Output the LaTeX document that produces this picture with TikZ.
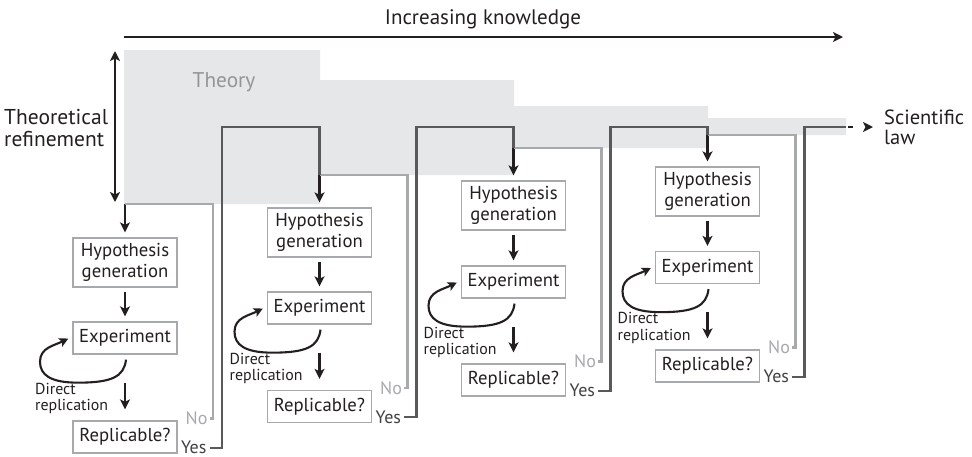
\documentclass[tikz,border=0pt]{standalone}
\usepackage{fontspec}
\setmainfont{PT Sans}
\usetikzlibrary{arrows.meta,calc}
\definecolor{ink}{HTML}{231F20}
\definecolor{yesc}{HTML}{58595B}
\definecolor{yestxt}{HTML}{414042}
\definecolor{noc}{HTML}{A7A9AC}
\definecolor{boxc}{HTML}{A7A9AC}
\definecolor{theoryc}{HTML}{E6E7E8}
\definecolor{theorytxt}{HTML}{939598}
\begin{document}
\begin{tikzpicture}[x=1pt,y=-1pt,
  box/.style={draw=boxc, line width=1.3pt, fill=white, minimum width=104pt, minimum height=32pt, inner sep=0pt, font=\fontsize{18.7}{21.5}\selectfont, text=ink, align=center},
  arr/.style={draw=ink, line width=2.3pt, -{Stealth[length=10pt,width=10pt,inset=2.5pt]}},
  looparr/.style={draw=ink, line width=2.1pt, -{Stealth[length=9pt,width=9pt,inset=2pt]}},
  yesl/.style={draw=yesc, line width=2.3pt},
  nol/.style={draw=noc, line width=2.3pt},
  lbl/.style={font=\fontsize{18}{21}\selectfont, text=ink, inner sep=0pt},
  small/.style={font=\fontsize{15.9}{16.5}\selectfont, text=ink, inner sep=0pt, align=left}]
\useasboundingbox (0,0) rectangle (972,456);
% theory region
\fill[theoryc] (124,50) -- (320,50) -- (320,80) -- (514,80) -- (514,106) -- (708,106) -- (708,118) -- (846,118) -- (846,135) -- (708,135) -- (708,148) -- (514,148) -- (514,175) -- (320,175) -- (320,204) -- (124,204) -- cycle;
\node[lbl, font=\fontsize{21.3}{22}\selectfont, text=theorytxt] (theory) at (224,82) {Theory};
% increasing knowledge
\node[lbl, font=\fontsize{21}{22}\selectfont] (ik) at (483,19) {Increasing knowledge};
\coordinate (ika) at (124,37);
\coordinate (ikb) at (843,37);
\draw[arr] (ika) -- (ikb);
% theoretical refinement
\node[lbl, font=\fontsize{21.5}{21.5}\selectfont, align=left, anchor=west] (tr) at (4,128) {Theoretical\\refinement};
\coordinate (tra) at (115,51);
\coordinate (trb) at (115,202);
\draw[draw=ink, line width=2.3pt, {Stealth[length=10pt,width=10pt,inset=2.5pt]}-{Stealth[length=10pt,width=10pt,inset=2.5pt]}] (tra) -- (trb);
% columns
\foreach \i/\cx/\hc/\ec/\rc/\g in {1/125/262.5/338/437/204, 2/319.5/232.5/308/406.5/175, 3/513.5/205.5/282/380/148, 4/707.5/191.5/267.5/366/135} {
  \node[box, minimum height=49pt] (h\i) at (\cx,\hc) {Hypothesis\\generation};
  \node[box] (e\i) at (\cx,\ec) {Experiment};
  \node[box] (r\i) at (\cx,\rc) {Replicable?};
  \coordinate (g\i) at (\cx,\g);
  \draw[arr, shorten >=5pt] (g\i) -- (h\i);
  \draw[arr, shorten <=4pt, shorten >=5pt] (h\i) -- (e\i);
  \draw[arr, shorten <=28pt, shorten >=11pt] (e\i) -- (r\i);
  \draw[looparr] ($(e\i.south)+(1,5)$) .. controls +(-2,17) and +(34,0) .. ($(e\i.south)+(-47,28)$) .. controls +(-28,0) and +(0,13) .. ($(e\i.south)+(-85,7)$) .. controls +(0,-14) and +(-14,7) .. ($(e\i.west)+(-4,0.5)$);
  \node[small, anchor=west] (dr\i) at ($(e\i.south)+(-90,44)$) {Direct\\replication};
  \node[lbl, text=noc, anchor=east] (no\i) at ($(r\i.north east)+(30,-2)$) {No};
  \node[lbl, text=yestxt, anchor=east] (yes\i) at ($(r\i.south east)+(29,-6)$) {Yes};
  \draw[nol] ($(no\i.east)+(2,0)$) -| ({\cx+88},\g) -- (g\i);
}
\foreach \i/\j/\cx in {1/2/125, 2/3/319.5, 3/4/513.5} {
  \draw[yesl] ($(yes\i.east)+(3,0)$) -| ({\cx+97},127) -| (g\j);
}
\node[lbl, font=\fontsize{20.5}{19.5}\selectfont, align=left, anchor=west] (law) at (884,127.5) {Scientific\\law};
\coordinate (ls) at (846,127);
\draw[yesl] ($(yes4.east)+(3,0)$) -| (804.5,127) -- (ls);
\draw[arr, dash pattern=on 0pt off 2pt on 5pt off 30pt] (ls) -- (law.west |- ls) [shorten >=11pt];
\end{tikzpicture}
\end{document}
